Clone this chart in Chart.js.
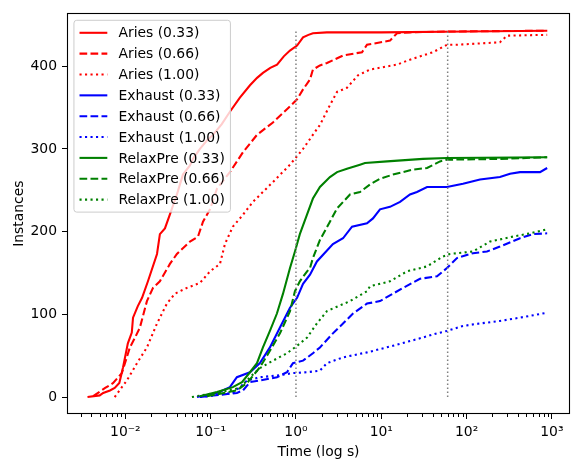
<!DOCTYPE html>
<html>
<head>
<meta charset="utf-8">
<script src="https://cdn.jsdelivr.net/npm/chart.js@4.4.0/dist/chart.umd.min.js"></script>
<style>
  body { margin: 0; background: #fff; }
</style>
</head>
<body>
<canvas id="chart" width="573" height="462"></canvas>
<script>
// --- data (time in s, cumulative instances) ---
const seriesLabels = ['Aries (0.33)', 'Aries (0.66)', 'Aries (1.00)',
                      'Exhaust (0.33)', 'Exhaust (0.66)', 'Exhaust (1.00)',
                      'RelaxPre (0.33)', 'RelaxPre (0.66)', 'RelaxPre (1.00)'];

const ariesT33 = [0.0036, 0.0050, 0.0055, 0.0066, 0.0075, 0.0085, 0.0094, 0.0107, 0.0119, 0.0123, 0.0140, 0.0157, 0.0184, 0.0235, 0.0254, 0.0291, 0.0333, 0.0352, 0.0402, 0.0473, 0.0572, 0.0620, 0.0749, 0.0900, 0.1064, 0.135, 0.168, 0.22, 0.289, 0.35, 0.41, 0.50, 0.60, 0.72, 0.85, 1.03, 1.21, 1.40, 1.58, 2.3, 10, 100, 880];
const ariesN33 = [0, 2, 5, 8, 11, 17, 36, 65, 78, 96, 110, 120, 140, 173, 197, 204, 221, 228, 245, 269, 280, 288, 300, 310, 317, 330, 345, 362, 377, 386, 392, 398, 402, 412, 419, 425, 435, 438, 440, 441, 441, 442, 443];

const ariesT66 = [0.0042, 0.0058, 0.0072, 0.0091, 0.0104, 0.0113, 0.0130, 0.0148, 0.0179, 0.0211, 0.0254, 0.0333, 0.0402, 0.0572, 0.0710, 0.0813, 0.0982, 0.1186, 0.168, 0.239, 0.349, 0.537, 0.784, 1.03, 1.21, 1.46, 1.58, 1.91, 2.31, 3.56, 5.94, 6.80, 12.65, 15.28, 21.7, 58.9, 880];
const ariesN66 = [1, 11, 17, 29, 48, 60, 72, 84, 116, 132, 140, 161, 173, 188, 194, 212, 227, 252, 272, 296, 317, 332, 348, 360, 372, 384, 396, 401, 404, 413, 417, 426, 431, 440, 441, 442, 443];

const ariesT100 = [0.0075, 0.0080, 0.0104, 0.0137, 0.0179, 0.0235, 0.0307, 0.0381, 0.0527, 0.0749, 0.0982, 0.1285, 0.147, 0.182, 0.233, 0.313, 0.537, 0.851, 1.21, 1.76, 1.91, 2.50, 3.03, 3.96, 5.33, 7.37, 15.3, 21.7, 40.4, 58.9, 77.1, 246, 298, 880];
const ariesN100 = [0, 4, 20, 41, 60, 89, 113, 125, 132, 138, 152, 161, 185, 206, 219, 236, 260, 281, 300, 324, 329, 353, 369, 374, 389, 396, 402, 408, 417, 426, 426, 429, 437, 438];

const exhaustT33 = [0.0691, 0.1186, 0.168, 0.203, 0.289, 0.378, 0.495, 0.649, 0.851, 1.03, 1.21, 1.46, 1.76, 2.71, 3.56, 4.54, 6.80, 7.99, 9.66, 12.65, 16.6, 21.7, 26.2, 34.4, 58.9, 90.7, 143.6, 246, 323, 423, 725, 880];
const exhaustN33 = [0, 5, 12, 24, 30, 41, 60, 84, 108, 120, 137, 148, 164, 185, 192, 206, 210, 216, 227, 230, 236, 245, 248, 254, 254, 258, 263, 266, 270, 272, 272, 277];

const exhaustT66 = [0.0749, 0.203, 0.239, 0.289, 0.378, 0.598, 0.784, 0.922, 1.21, 1.58, 1.91, 2.71, 3.56, 4.66, 6.80, 9.66, 13.7, 18.0, 28.4, 45.0, 58.9, 77.1, 118.9, 173.4, 246, 423, 600, 880];
const exhaustN66 = [0, 5, 8, 18, 20, 24, 30, 41, 44, 53, 60, 77, 89, 101, 113, 116, 125, 132, 143, 146, 156, 168, 174, 176, 182, 192, 197, 198];

const exhaustT100 = [0.0749, 0.182, 0.220, 0.267, 0.378, 0.598, 0.922, 1.35, 1.91, 2.31, 3.56, 6.80, 13.7, 28.4, 45.0, 58.9, 90.7, 143.6, 246, 423, 880];
const exhaustN100 = [0, 5, 12, 20, 24, 26, 29, 30, 32, 41, 48, 54, 62, 71, 77, 80, 86, 89, 92, 96, 102];

const relaxT33 = [0.0749, 0.1186, 0.182, 0.233, 0.289, 0.349, 0.410, 0.495, 0.598, 0.705, 0.851, 0.973, 1.11, 1.35, 1.58, 1.91, 2.50, 3.03, 3.96, 5.63, 6.44, 11.7, 30.8, 58.9, 880];
const relaxN33 = [1, 6, 12, 18, 30, 41, 60, 80, 101, 125, 156, 176, 197, 221, 240, 254, 266, 272, 276, 281, 283, 285, 288, 289, 290];

const relaxT66 = [0.0906, 0.203, 0.267, 0.378, 0.495, 0.649, 0.851, 0.973, 1.11, 1.35, 1.46, 1.58, 1.91, 2.50, 3.03, 4.30, 5.63, 7.37, 9.66, 13.7, 23.5, 34.4, 48.8, 58.9, 246, 880];
const relaxN66 = [1, 8, 17, 36, 56, 77, 104, 128, 140, 152, 156, 168, 190, 212, 228, 245, 248, 257, 264, 269, 275, 277, 285, 287, 288, 290];

const relaxT100 = [0.0603, 0.1285, 0.220, 0.289, 0.378, 0.537, 0.784, 1.03, 1.35, 1.76, 2.31, 4.30, 6.80, 7.37, 12.65, 20.0, 34.4, 52.9, 63.9, 118.9, 188, 350, 554, 880];
const relaxN100 = [0, 6, 11, 24, 35, 44, 53, 62, 72, 89, 104, 116, 128, 134, 140, 152, 158, 170, 173, 176, 188, 194, 198, 203];

// dotted reference lines (time limits) and their height
const cutoffTimes = [1, 60];
const cutoffRange = [0, 443];

// axes
const xTickValues = [0.01, 0.1, 1, 10, 100, 1000];
const xTickLabels = ['10\u207B\u00B2', '10\u207B\u00B9', '10\u2070', '10\u00B9', '10\u00B2', '10\u00B3'];
const yTickValues = [0, 100, 200, 300, 400];

// --- styling ---
const FONT = 'DejaVu Sans';
const FS = 13.9;
const LW = 2.08;
const colors = ['#ff0000', '#ff0000', '#ff0000', '#0000ff', '#0000ff', '#0000ff', '#008000', '#008000', '#008000'];
const dashes = [[], [7.7, 3.3], [2.1, 3.4]];

const seriesData = [
  [ariesT33, ariesN33], [ariesT66, ariesN66], [ariesT100, ariesN100],
  [exhaustT33, exhaustN33], [exhaustT66, exhaustN66], [exhaustT100, exhaustN100],
  [relaxT33, relaxN33], [relaxT66, relaxN66], [relaxT100, relaxN100]
];

const datasets = seriesData.map(function (s, i) {
  return {
    label: seriesLabels[i],
    data: s[0].map(function (t, k) { return { x: t, y: s[1][k] }; }),
    borderColor: colors[i],
    borderWidth: LW,
    borderDash: dashes[i % 3],
    pointRadius: 0,
    tension: 0,
    fill: false,
    inLegend: true,
    order: 20 - i   // later series on top, like matplotlib
  };
});

cutoffTimes.forEach(function (t) {
  datasets.push({
    label: 'cutoff ' + t,
    data: cutoffRange.map(function (v) { return { x: t, y: v }; }),
    borderColor: '#808080',
    borderWidth: 1.5,
    borderDash: [1.5, 2.5],
    pointRadius: 0,
    fill: false,
    inLegend: false,
    order: 0
  });
});

function isDecade(v) {
  const l = Math.log10(v);
  return Math.abs(l - Math.round(l)) < 1e-9;
}

// frame, minor ticks and the legend box inside the axes
const extrasPlugin = {
  id: 'extras',
  afterDraw(chart) {
    const ctx = chart.ctx;
    const a = chart.chartArea;
    const x = chart.scales.x;
    ctx.save();

    // minor ticks on the log axis
    ctx.strokeStyle = '#000';
    ctx.lineWidth = 1;
    ctx.beginPath();
    x.ticks.forEach(function (t) {
      if (isDecade(t.value)) return;
      const px = Math.round(x.getPixelForValue(t.value)) + 0.5;
      ctx.moveTo(px, a.bottom);
      ctx.lineTo(px, a.bottom + 3);
    });
    ctx.stroke();

    // box around the axes
    ctx.lineWidth = 1.1;
    ctx.strokeRect(Math.round(a.left) + 0.5, Math.round(a.top) + 0.5,
                   Math.round(a.right - a.left) - 1, Math.round(a.bottom - a.top) - 1);

    // legend
    const items = chart.data.datasets.filter(function (d) { return d.inLegend; });
    const pad = 0.4 * FS, handle = 2 * FS, gap = 0.8 * FS, spacing = 0.5 * FS;
    ctx.font = FS + 'px "' + FONT + '"';
    const maxW = Math.max.apply(null, items.map(function (d) { return ctx.measureText(d.label).width; }));
    const left = a.left + 0.5 * FS;
    const top = a.top + 0.5 * FS;
    const w = 2 * pad + handle + gap + maxW;
    const h = 2 * pad + items.length * FS + (items.length - 1) * spacing;
    ctx.beginPath();
    ctx.roundRect(left, top, w, h, 0.2 * FS);
    ctx.fillStyle = 'rgba(255,255,255,0.8)';
    ctx.fill();
    ctx.strokeStyle = '#cccccc';
    ctx.lineWidth = 1;
    ctx.stroke();

    items.forEach(function (d, i) {
      const cy = top + pad + i * (FS + spacing) + FS / 2;
      ctx.setLineDash(d.borderDash);
      ctx.strokeStyle = d.borderColor;
      ctx.lineWidth = d.borderWidth;
      ctx.beginPath();
      ctx.moveTo(left + pad, cy);
      ctx.lineTo(left + pad + handle, cy);
      ctx.stroke();
      ctx.setLineDash([]);
      ctx.fillStyle = '#000';
      ctx.textBaseline = 'middle';
      ctx.textAlign = 'left';
      ctx.fillText(d.label, left + pad + handle + gap, cy + 1);
    });
    ctx.restore();
  }
};

new Chart(document.getElementById('chart'), {
  type: 'line',
  data: { datasets: datasets },
  options: {
    responsive: false,
    animation: false,
    layout: { padding: { top: 10, right: 3, left: 0, bottom: 0 } },
    plugins: {
      legend: { display: false },
      tooltip: { enabled: false }
    },
    scales: {
      x: {
        type: 'logarithmic',
        min: 0.00207,
        max: 1630,
        afterBuildTicks: function (scale) {
          const ticks = [];
          for (let k = -3; k <= 3; k++) {
            for (let m = 1; m <= 9; m++) {
              const v = m * Math.pow(10, k);
              if (v >= scale.min && v <= scale.max) ticks.push({ value: v });
            }
          }
          scale.ticks = ticks;
        },
        afterFit: function (scale) { scale.height = 48; },
        border: { display: false },
        grid: {
          display: true,
          drawOnChartArea: false,
          drawTicks: true,
          tickLength: 5,
          tickColor: function (c) { return c.tick && isDecade(c.tick.value) ? '#000' : 'rgba(0,0,0,0)'; }
        },
        ticks: {
          autoSkip: false,
          maxRotation: 0,
          padding: 5,
          color: '#000',
          font: { family: FONT, size: FS },
          callback: function (v) {
            const i = xTickValues.findIndex(function (t) { return Math.abs(t - v) / t < 1e-6; });
            return i >= 0 ? xTickLabels[i] : '';
          }
        },
        title: {
          display: true,
          text: 'Time (log s)',
          color: '#000',
          font: { family: FONT, size: FS },
          padding: { top: 0, bottom: 1 }
        }
      },
      y: {
        type: 'linear',
        min: -20.5,
        max: 464,
        afterBuildTicks: function (scale) {
          scale.ticks = yTickValues.map(function (v) { return { value: v }; });
        },
        afterFit: function (scale) { scale.width = 67; },
        border: { display: false },
        grid: {
          display: true,
          drawOnChartArea: false,
          drawTicks: true,
          tickLength: 5,
          tickColor: '#000'
        },
        ticks: {
          padding: 5,
          color: '#000',
          font: { family: FONT, size: FS }
        },
        title: {
          display: true,
          text: 'Instances',
          color: '#000',
          font: { family: FONT, size: FS },
          padding: { top: 11, bottom: 0 }
        }
      }
    }
  },
  plugins: [extrasPlugin]
});
</script>
</body>
</html>
